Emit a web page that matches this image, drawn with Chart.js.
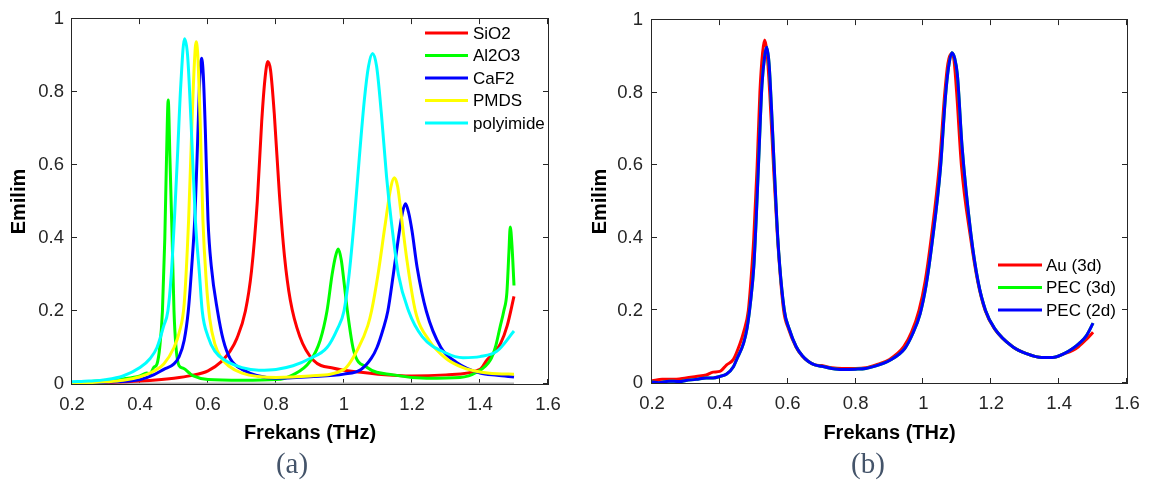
<!DOCTYPE html>
<html>
<head>
<meta charset="utf-8">
<script src="https://cdn.jsdelivr.net/npm/chart.js@4"></script>
<style>
  body { margin: 0; background: #fff; width: 1152px; height: 481px; position: relative; overflow: hidden; }
  .panel { position: absolute; top: 0; width: 576px; height: 481px; }
  .caption { position: absolute; top: 447px; transform: translateX(-50%);
    font-family: "Liberation Serif", "Times New Roman", serif; font-size: 29px; color: #44546a; }
</style>
</head>
<body>
<div class="panel" style="left:0"><canvas id="chartA" width="576" height="481"></canvas></div>
<div class="panel" style="left:576px"><canvas id="chartB" width="576" height="481"></canvas></div>
<div class="caption" style="left:292px">(a)</div>
<div class="caption" style="left:868px">(b)</div>
<script>
// axis ticks
const xTicks = [0.2, 0.4, 0.6, 0.8, 1.0, 1.2, 1.4, 1.6]
const xTickLabels = ['0.2', '0.4', '0.6', '0.8', '1', '1.2', '1.4', '1.6']
const yTicks = [0, 0.2, 0.4, 0.6, 0.8, 1.0]
const yTickLabels = ['0', '0.2', '0.4', '0.6', '0.8', '1']

// (a) substrates
const sio2F = [0.2, 0.3, 0.4, 0.5, 0.55, 0.6, 0.64, 0.665, 0.685, 0.71, 0.728, 0.745, 0.758, 0.768, 0.776, 0.784, 0.795, 0.81, 0.825, 0.842, 0.87, 0.91, 0.97, 1.05, 1.1, 1.2, 1.3, 1.4, 1.42, 1.44, 1.46, 1.48, 1.5]
const sio2E = [0.002, 0.004, 0.008, 0.016, 0.023, 0.036, 0.062, 0.09, 0.125, 0.2, 0.31, 0.5, 0.72, 0.84, 0.884, 0.86, 0.74, 0.52, 0.35, 0.23, 0.13, 0.065, 0.043, 0.032, 0.027, 0.022, 0.025, 0.04, 0.065, 0.085, 0.11, 0.16, 0.24]

const al2o3F = [0.2, 0.25, 0.3, 0.35, 0.4, 0.42, 0.43, 0.44, 0.45, 0.458, 0.466, 0.473, 0.478, 0.483, 0.488, 0.494, 0.5, 0.506, 0.515, 0.528, 0.545, 0.557, 0.6, 0.7, 0.8, 0.85, 0.9, 0.93, 0.95, 0.965, 0.975, 0.983, 0.992, 1.0, 1.01, 1.028, 1.067, 1.145, 1.243, 1.341, 1.39, 1.43, 1.445, 1.459, 1.47, 1.479, 1.485, 1.489, 1.494, 1.5]
const al2o3E = [0.004, 0.006, 0.01, 0.014, 0.022, 0.03, 0.028, 0.045, 0.055, 0.1, 0.2, 0.4, 0.62, 0.778, 0.62, 0.42, 0.2, 0.1, 0.05, 0.043, 0.03, 0.022, 0.012, 0.01, 0.012, 0.025, 0.062, 0.12, 0.2, 0.3, 0.35, 0.37, 0.34, 0.28, 0.2, 0.093, 0.046, 0.025, 0.016, 0.018, 0.032, 0.065, 0.1, 0.156, 0.2, 0.25, 0.36, 0.43, 0.38, 0.27]

const caf2F = [0.2, 0.3, 0.4, 0.44, 0.47, 0.5, 0.515, 0.53, 0.542, 0.552, 0.562, 0.57, 0.576, 0.581, 0.586, 0.592, 0.6, 0.61, 0.628, 0.645, 0.665, 0.7, 0.8, 0.9, 1.0, 1.05, 1.08, 1.097, 1.115, 1.129, 1.145, 1.16, 1.172, 1.181, 1.19, 1.2, 1.215, 1.242, 1.285, 1.33, 1.4, 1.45, 1.5]
const caf2E = [0.002, 0.005, 0.012, 0.025, 0.04, 0.055, 0.075, 0.12, 0.2, 0.32, 0.47, 0.68, 0.84, 0.893, 0.85, 0.7, 0.45, 0.32, 0.2, 0.12, 0.07, 0.04, 0.016, 0.02, 0.027, 0.04, 0.07, 0.1, 0.15, 0.2, 0.3, 0.4, 0.47, 0.494, 0.47, 0.42, 0.32, 0.2, 0.1, 0.06, 0.03, 0.024, 0.019]

const pmdsF = [0.2, 0.3, 0.35, 0.4, 0.44, 0.47, 0.5, 0.515, 0.53, 0.543, 0.553, 0.56, 0.565, 0.57, 0.577, 0.585, 0.595, 0.605, 0.62, 0.64, 0.66, 0.7, 0.8, 0.9, 1.0, 1.043, 1.07, 1.081, 1.1, 1.12, 1.138, 1.148, 1.158, 1.17, 1.185, 1.21, 1.25, 1.3, 1.35, 1.4, 1.45, 1.5]
const pmdsE = [0.002, 0.006, 0.01, 0.02, 0.035, 0.055, 0.1, 0.14, 0.22, 0.45, 0.72, 0.88, 0.938, 0.9, 0.72, 0.45, 0.28, 0.18, 0.11, 0.07, 0.05, 0.03, 0.018, 0.022, 0.04, 0.1, 0.16, 0.2, 0.3, 0.43, 0.54, 0.565, 0.54, 0.45, 0.34, 0.2, 0.12, 0.07, 0.045, 0.033, 0.028, 0.027]

const polyF = [0.2, 0.25, 0.3, 0.35, 0.4, 0.43, 0.45, 0.47, 0.482, 0.492, 0.501, 0.51, 0.52, 0.531, 0.54, 0.55, 0.563, 0.575, 0.583, 0.6, 0.62, 0.65, 0.7, 0.75, 0.8, 0.85, 0.9, 0.95, 0.98, 1.0, 1.015, 1.03, 1.045, 1.06, 1.072, 1.084, 1.096, 1.11, 1.125, 1.139, 1.16, 1.19, 1.23, 1.3, 1.35, 1.4, 1.45, 1.5]
const polyE = [0.006, 0.008, 0.012, 0.022, 0.045, 0.07, 0.1, 0.16, 0.2, 0.3, 0.447, 0.62, 0.82, 0.946, 0.9, 0.72, 0.447, 0.3, 0.2, 0.13, 0.09, 0.065, 0.045, 0.038, 0.04, 0.05, 0.07, 0.1, 0.15, 0.2, 0.3, 0.447, 0.62, 0.78, 0.87, 0.906, 0.87, 0.74, 0.57, 0.447, 0.3, 0.2, 0.13, 0.085, 0.072, 0.075, 0.09, 0.145]

// grey line lying on the lower axis of (a)
const baseF = [0.2, 1.5]
const baseE = [0, 0]

// (b) metals
const auF = [0.2, 0.23, 0.26, 0.3, 0.33, 0.36, 0.38, 0.4, 0.42, 0.44, 0.46, 0.47, 0.484, 0.493, 0.5, 0.51, 0.518, 0.526, 0.532, 0.539, 0.547, 0.558, 0.57, 0.588, 0.602, 0.624, 0.642, 0.66, 0.68, 0.7, 0.73, 0.76, 0.8, 0.83, 0.86, 0.9, 0.942, 0.965, 0.987, 1.005, 1.023, 1.047, 1.063, 1.072, 1.082, 1.09, 1.098, 1.112, 1.139, 1.16, 1.182, 1.209, 1.263, 1.306, 1.349, 1.38, 1.413, 1.44, 1.457, 1.48, 1.5]
const auE = [0.006, 0.01, 0.01, 0.014, 0.018, 0.022, 0.03, 0.032, 0.05, 0.065, 0.11, 0.14, 0.2, 0.3, 0.4, 0.6, 0.8, 0.91, 0.945, 0.91, 0.8, 0.6, 0.4, 0.2, 0.15, 0.1, 0.075, 0.06, 0.05, 0.048, 0.042, 0.04, 0.04, 0.042, 0.05, 0.065, 0.1, 0.14, 0.2, 0.28, 0.4, 0.6, 0.8, 0.88, 0.907, 0.89, 0.8, 0.6, 0.4, 0.28, 0.2, 0.15, 0.1, 0.08, 0.07, 0.07, 0.08, 0.09, 0.1, 0.12, 0.14]

const pec2dF = [0.2, 0.22, 0.25, 0.28, 0.3, 0.33, 0.36, 0.38, 0.4, 0.42, 0.44, 0.45, 0.47, 0.48, 0.49, 0.5, 0.507, 0.516, 0.524, 0.532, 0.538, 0.545, 0.552, 0.561, 0.572, 0.59, 0.604, 0.625, 0.643, 0.66, 0.68, 0.7, 0.73, 0.76, 0.8, 0.83, 0.86, 0.9, 0.945, 0.968, 0.99, 1.008, 1.026, 1.05, 1.065, 1.074, 1.084, 1.092, 1.1, 1.114, 1.14, 1.161, 1.183, 1.21, 1.263, 1.306, 1.349, 1.38, 1.413, 1.44, 1.46, 1.48, 1.5]
const pec2dE = [0.003, 0.001, 0.005, 0.004, 0.007, 0.01, 0.014, 0.014, 0.018, 0.025, 0.045, 0.066, 0.11, 0.15, 0.22, 0.32, 0.45, 0.65, 0.82, 0.9, 0.925, 0.88, 0.76, 0.58, 0.38, 0.2, 0.15, 0.1, 0.075, 0.06, 0.05, 0.046, 0.04, 0.037, 0.038, 0.04, 0.047, 0.062, 0.095, 0.135, 0.19, 0.27, 0.39, 0.59, 0.79, 0.87, 0.91, 0.895, 0.85, 0.65, 0.41, 0.28, 0.2, 0.15, 0.1, 0.08, 0.07, 0.07, 0.08, 0.095, 0.11, 0.13, 0.165]

// PEC (3d) lies under PEC (2d) everywhere, so it uses the same readings
const pec3dF = pec2dF
const pec3dE = pec2dE

const FONT = 'Arial, "Liberation Sans", sans-serif'

function points(fs, es) {
    return fs.map((f, i) => ({ x: f, y: es[i] }))
}

function line(label, fs, es, color, order) {
    return {
        label: label,
        data: points(fs, es),
        borderColor: color,
        backgroundColor: color,
        borderWidth: 3,
        pointRadius: 0,
        cubicInterpolationMode: 'monotone',
        order: order
    }
}

// box with inward ticks on all four sides (matlab style)
const boxPlugin = {
    id: 'box',
    beforeDatasetsDraw(chart) {
        const { ctx, chartArea: a, scales } = chart
        ctx.save()
        ctx.strokeStyle = '#262626'
        ctx.lineWidth = 1
        ctx.strokeRect(Math.round(a.left) - 0.5, Math.round(a.top) - 0.5, Math.round(a.right - a.left) + 1, Math.round(a.bottom - a.top) + 1)
        ctx.beginPath()
        xTicks.forEach(v => {
            const px = Math.round(scales.x.getPixelForValue(v)) - 0.5
            ctx.moveTo(px, a.top); ctx.lineTo(px, a.top + 5)
            ctx.moveTo(px, a.bottom); ctx.lineTo(px, a.bottom - 5)
        })
        yTicks.forEach(v => {
            const py = Math.round(scales.y.getPixelForValue(v)) - 0.5
            ctx.moveTo(a.left, py); ctx.lineTo(a.left + 5, py)
            ctx.moveTo(a.right, py); ctx.lineTo(a.right - 5, py)
        })
        ctx.stroke()
        ctx.restore()
    }
}

// legend drawn inside the axes, no frame
const inLegend = {
    id: 'inLegend',
    afterDraw(chart, args, opts) {
        const ctx = chart.ctx
        ctx.save()
        ctx.font = '17px ' + FONT
        ctx.textBaseline = 'middle'
        ctx.fillStyle = '#000'
        let y = opts.y
        chart.data.datasets.forEach(ds => {
            if (!ds.label) return
            ctx.strokeStyle = ds.borderColor
            ctx.lineWidth = 3
            ctx.beginPath()
            ctx.moveTo(opts.x1, y); ctx.lineTo(opts.x2, y)
            ctx.stroke()
            ctx.fillText(ds.label, opts.tx, y + 1)
            y += opts.dy
        })
        ctx.restore()
    }
}

function makeChart(id, datasets, geo) {
    return new Chart(document.getElementById(id), {
        type: 'line',
        data: { datasets: datasets },
        options: {
            responsive: false,
            animation: false,
            devicePixelRatio: 1,
            layout: { padding: { left: 0, top: geo.top, right: geo.right, bottom: 0 } },
            plugins: {
                legend: { display: false },
                tooltip: { enabled: false },
                inLegend: geo.legend
            },
            scales: {
                x: {
                    type: 'linear', min: 0.2, max: 1.6,
                    afterBuildTicks: s => { s.ticks = xTicks.map(v => ({ value: v })) },
                    afterFit: s => { s.height = geo.xh },
                    grid: { display: false, drawTicks: false },
                    border: { display: false },
                    ticks: {
                        autoSkip: false, maxRotation: 0, padding: 10,
                        color: '#262626', font: { family: FONT, size: 18.5 },
                        callback: (v, i) => xTickLabels[i]
                    },
                    title: {
                        display: true, text: 'Frekans (THz)', color: '#000',
                        font: { family: FONT, size: 20, weight: 'bold' },
                        padding: { top: 0, bottom: 36 }
                    }
                },
                y: {
                    type: 'linear', min: 0, max: 1,
                    afterBuildTicks: s => { s.ticks = yTicks.map(v => ({ value: v })) },
                    afterFit: s => { s.width = geo.yw },
                    grid: { display: false, drawTicks: false },
                    border: { display: false },
                    ticks: {
                        padding: geo.ypad,
                        color: '#262626', font: { family: FONT, size: 18.5 },
                        callback: (v, i) => yTickLabels[i]
                    },
                    title: {
                        display: true, text: 'Emilim', color: '#000',
                        font: { family: FONT, size: 20, weight: 'bold' },
                        padding: { top: geo.ytitle, bottom: 0 }
                    }
                }
            }
        },
        plugins: [boxPlugin, inLegend]
    })
}

document.addEventListener('DOMContentLoaded', () => {
    const baseline = line('', baseF, baseE, '#b4b4b4', 9)
    baseline.cubicInterpolationMode = 'default'
    makeChart('chartA', [
        line('SiO2', sio2F, sio2E, '#ff0000', 4),
        line('Al2O3', al2o3F, al2o3E, '#00ff00', 3),
        line('CaF2', caf2F, caf2E, '#0000ff', 2),
        line('PMDS', pmdsF, pmdsE, '#ffff00', 1),
        line('polyimide', polyF, polyE, '#00ffff', 0),
        baseline
    ], { top: 17, right: 28, yw: 72, xh: 97, ypad: 8, ytitle: 7.5,
         legend: { x1: 425, x2: 468, tx: 473, y: 33, dy: 22.5 } })

    makeChart('chartB', [
        line('Au (3d)', auF, auE, '#ff0000', 2),
        line('PEC (3d)', pec3dF, pec3dE, '#00ff00', 1),
        line('PEC (2d)', pec2dF, pec2dE, '#0000ff', 0)
    ], { top: 16, right: 25, yw: 76, xh: 98, ypad: 9, ytitle: 12,
         legend: { x1: 422, x2: 466, tx: 470, y: 265, dy: 22.5 } })
})
</script>
</body>
</html>
